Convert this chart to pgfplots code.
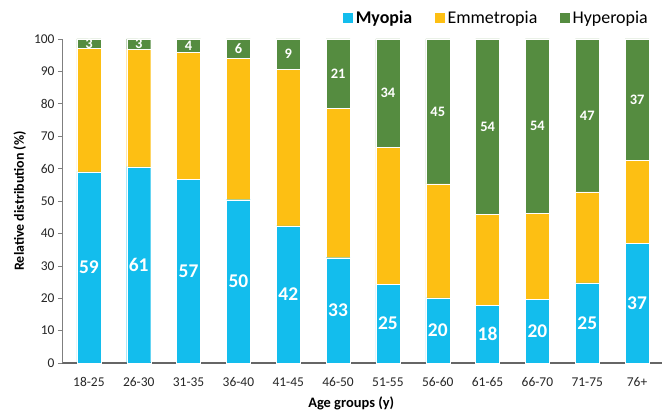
\documentclass[border=0pt]{standalone}
\usepackage{pgfplots}
\pgfplotsset{compat=1.18}
\usepackage{fontspec}
\setmainfont{Carlito}
\definecolor{myo}{HTML}{13BDED}
\definecolor{emm}{HTML}{FDBF13}
\definecolor{hyp}{HTML}{558C40}
\definecolor{axgray}{HTML}{7F7F7F}
\begin{document}
\begin{tikzpicture}
\pgfplotsset{
  common/.style={
    scale only axis, width=600bp, height=324bp,
    xmin=-0.54, xmax=11.5, ymin=0, ymax=100,
    at={(0,0)}, anchor=south west,
  }
}
\begin{axis}[common,
  ybar stacked, bar width=24bp,
  axis x line*=bottom, axis y line*=left,
  x axis line style={draw=axgray!80!black, line width=1.1pt, -},
  y axis line style={draw=axgray, line width=0.6pt, -},
  xtick={0,...,11},
  xticklabels={18-25,26-30,31-35,36-40,41-45,46-50,51-55,56-60,61-65,66-70,71-75,76+},
  xtick style={draw=none},
  ytick={0,10,...,100},
  ytick style={draw=axgray, line width=0.6pt},
  tick align=outside, major tick length=4bp,
  ticklabel style={font=\fontsize{13.5}{16}\selectfont, text=black!85},
  xticklabel style={yshift=-7bp},
  /pgf/number format/assume math mode=true,
  xlabel={\textbf{Age groups (y)}},
  ylabel={\textbf{Relative distribution (\%)}},
  every axis x label/.style={at={(axis description cs:0.482,-0.1235)}, anchor=center, font=\fontsize{14.5}{17}\selectfont},
  every axis y label/.style={at={(axis description cs:-0.0705,0.5)}, rotate=90, anchor=center, font=\fontsize{14}{17}\selectfont},
  legend style={at={(axis description cs:0.98,1.065)}, anchor=east, draw=none, fill=none,
    legend columns=3, inner sep=0pt, font=\fontsize{18}{21}\selectfont,
    /tikz/every even column/.append style={column sep=20bp}},
  legend image code/.code={\fill[#1] (0bp,-5.5bp) rectangle (11bp,5.5bp);},
]
\addplot[fill=myo, draw=white, line width=0.3pt] coordinates {(0,59.0) (1,60.5) (2,56.6) (3,50.4) (4,42.3) (5,32.5) (6,24.3) (7,20.1) (8,17.9) (9,19.6) (10,24.7) (11,36.9)};
\addplot[fill=emm, draw=white, line width=0.3pt] coordinates {(0,38.2) (1,36.4) (2,39.3) (3,43.7) (4,48.4) (5,46.1) (6,42.2) (7,35.2) (8,28.0) (9,26.6) (10,28.1) (11,25.7)};
\addplot[fill=hyp, draw=white, line width=0.3pt] coordinates {(0,2.8) (1,3.1) (2,4.1) (3,5.9) (4,9.3) (5,21.4) (6,33.5) (7,44.7) (8,54.1) (9,53.8) (10,47.2) (11,37.4)};
\legend{\textbf{Myopia}, Emmetropia, Hyperopia}
\end{axis}
\begin{axis}[common, hide axis,
  nodes near coords, point meta=explicit symbolic,
  every node near coord/.append style={anchor=center, text=white, inner sep=0pt},
]
\addplot[draw=none, mark=none, nodes near coords style={font=\bfseries\fontsize{19.5}{22}\selectfont}] table[meta=l] {
x y l
0 29.5 59
1 30.25 61
2 28.3 57
3 25.2 50
4 21.15 42
5 16.25 33
6 12.15 25
7 10.05 20
8 8.95 18
9 9.8 20
10 12.35 25
11 18.45 37
};
\addplot[draw=none, mark=none, nodes near coords style={font=\bfseries\fontsize{14.5}{17}\selectfont}] table[meta=l] {
x y l
0 98.6 3
1 98.45 3
2 97.95 4
3 97.05 6
4 95.35 9
5 89.3 21
6 83.25 34
7 77.65 45
8 72.95 54
9 73.1 54
10 76.4 47
11 81.3 37
};
\end{axis}
\pgfresetboundingbox
\path[use as bounding box] (-62bp,-50bp) rectangle (600bp,363bp);
\end{tikzpicture}
\end{document}
